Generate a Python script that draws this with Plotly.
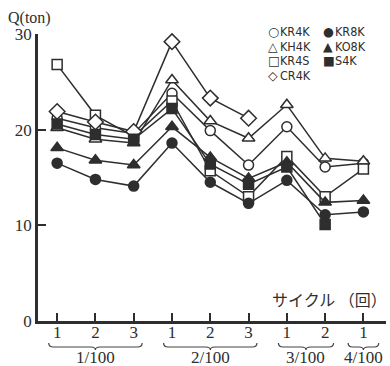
import plotly.graph_objects as go

# Cycle positions along the x axis and their labels
positions = list(range(1, 10))
cycle_labels = ["1", "2", "3", "1", "2", "3", "1", "2", "1"]

# Loading-rate groups (label, number of cycles in the group)
group_labels = ["1/100", "2/100", "3/100", "4/100"]
group_sizes = [3, 3, 2, 1]

# Q (ton) for each specimen, one value per cycle (None = not tested)
kr4k = [21.2, 20.2, 19.6, 23.8, 19.9, 16.3, 20.3, 16.1, 16.5]
kh4k = [20.2, 19.0, 18.6, 25.2, 20.9, 19.1, 22.6, 17.0, 16.7]
kr4s = [26.8, 21.5, 19.3, 23.0, 15.7, 13.0, 17.2, 13.0, 15.9]
cr4k = [21.9, 20.8, 19.8, 29.2, 23.3, 21.2, None, None, None]
kr8k = [16.5, 14.8, 14.1, 18.6, 14.5, 12.3, 14.7, 11.1, 11.4]
ko8k = [18.1, 16.8, 16.3, 20.3, 17.1, 14.9, 16.6, 12.4, 12.6]
s4k = [20.6, 19.5, 19.0, 22.2, 16.4, 14.3, 16.1, 10.1, None]

INK = "#2e2e2e"

# name, values, marker symbol, filled?, legend glyph
series = [
    ("KR4K", kr4k, "circle", False, "○"),
    ("KH4K", kh4k, "triangle-up", False, "△"),
    ("KR4S", kr4s, "square", False, "□"),
    ("CR4K", cr4k, "diamond", False, "◇"),
    ("KR8K", kr8k, "circle", True, "●"),
    ("KO8K", ko8k, "triangle-up", True, "▲"),
    ("S4K", s4k, "square", True, "■"),
]
marker_size = {"circle": 10, "triangle-up": 11, "square": 10, "diamond": 12}

fig = go.Figure()
for name, vals, sym, filled, _ in series:
    fig.add_trace(go.Scatter(
        x=positions, y=vals, name=name, mode="lines+markers",
        line=dict(color=INK, width=1.5),
        marker=dict(symbol=sym, size=marker_size[sym],
                    color=INK if filled else "white",
                    line=dict(color=INK, width=1.5)),
        cliponaxis=False, showlegend=False,
    ))

# Plot-area geometry in pixels (used to place paper-referenced items)
W, H = 390, 366
L, R, T, B = 38, 4, 34, 45
pw, ph = W - L - R, H - T - B


def px_x(p):
    return (p - L) / pw


def px_y(p):
    return (H - B - p) / ph


serif = "Liberation Serif, Times New Roman, serif"
gothic = "Noto Sans CJK JP, sans-serif"
narrow = "DejaVu Sans Condensed, Liberation Sans Narrow, Liberation Sans, sans-serif"
glyph_font = "DejaVu Sans, sans-serif"

annotations = []

# Legend block, two columns of glyph + name
col_x = [266, 321]
row_y = [31.5, 46, 60.5, 75]
open_series = [s for s in series if not s[3]]
filled_series = [s for s in series if s[3]]
for c, group in enumerate([open_series, filled_series]):
    for r, (name, _, _, _, glyph) in enumerate(group):
        annotations.append(dict(
            x=px_x(col_x[c]), y=px_y(row_y[r]), xref="paper", yref="paper",
            xanchor="left", yanchor="middle", showarrow=False,
            text=glyph, font=dict(family=glyph_font, size=12.5, color=INK),
        ))
        annotations.append(dict(
            x=px_x(col_x[c] + 12), y=px_y(row_y[r]), xref="paper", yref="paper",
            xanchor="left", yanchor="middle", showarrow=False,
            text=name, font=dict(family=narrow, size=12.5, color=INK),
        ))

# Axis titles
annotations.append(dict(
    x=px_x(6), y=px_y(18), xref="paper", yref="paper",
    xanchor="left", yanchor="middle", showarrow=False,
    text="Q(ton)", font=dict(family=serif, size=16, color=INK),
))
annotations.append(dict(
    x=px_x(389), y=px_y(299), xref="paper", yref="paper",
    xanchor="right", yanchor="middle", showarrow=False,
    text="サイクル （回）", font=dict(family=gothic, size=16, color=INK),
))

# Group braces and labels beneath the cycle numbers
shapes = []
yt, ym, yb = px_y(343), px_y(347), px_y(350)
start = 1
for label, n in zip(group_labels, group_sizes):
    first, last = start, start + n - 1
    pad = 0.4 if n == 1 else 0.22
    x0, x1 = first - pad, last + pad
    xc = (x0 + x1) / 2
    d = 0.12
    path = (f"M {x0},{yt} Q {x0},{ym} {x0 + d},{ym} L {xc - d},{ym} "
            f"Q {xc},{ym} {xc},{yb} Q {xc},{ym} {xc + d},{ym} "
            f"L {x1 - d},{ym} Q {x1},{ym} {x1},{yt}")
    shapes.append(dict(type="path", path=path, xref="x", yref="paper",
                       line=dict(color="#444", width=1.2)))
    annotations.append(dict(
        x=xc, y=px_y(357), xref="x", yref="paper",
        xanchor="center", yanchor="middle", showarrow=False,
        text=label, font=dict(family=serif, size=17, color=INK),
    ))
    start += n

fig.update_layout(
    width=W, height=H,
    margin=dict(l=L, r=R, t=T, b=B, pad=0),
    paper_bgcolor="white", plot_bgcolor="white",
    showlegend=False,
    annotations=annotations, shapes=shapes,
    xaxis=dict(
        range=[0.5, 9.59], tickvals=positions, ticktext=cycle_labels,
        showline=True, linewidth=2.5, linecolor=INK,
        ticks="inside", ticklen=8, tickwidth=1.5, tickcolor=INK,
        showgrid=False, zeroline=False, ticklabelstandoff=-6,
        tickfont=dict(family=serif, size=17, color=INK),
    ),
    yaxis=dict(
        range=[0, 30], tickvals=[0, 10, 20, 30],
        showline=True, linewidth=2.5, linecolor=INK,
        ticks="inside", ticklen=8, tickwidth=2, tickcolor=INK,
        showgrid=False, zeroline=False,
        tickfont=dict(family=serif, size=17, color=INK),
    ),
)

fig.write_html("out.html")
